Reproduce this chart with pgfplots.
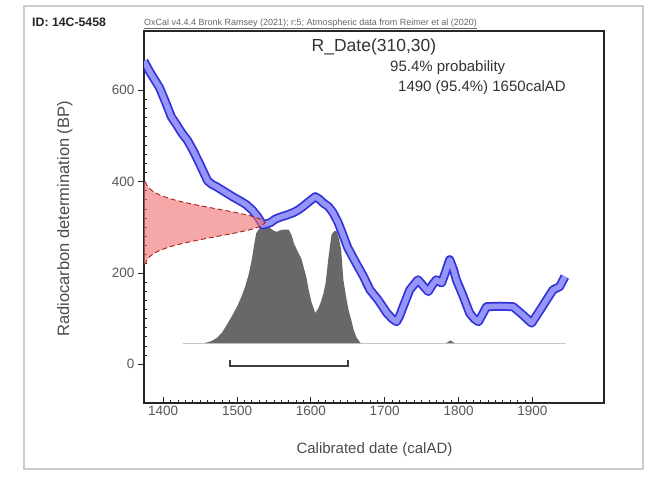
\documentclass[border=0pt]{standalone}
\usepackage{fontspec}
\setmainfont{Liberation Sans}
\usepackage{pgfplots}
\pgfplotsset{compat=1.18}
\definecolor{bandedge}{RGB}{50,50,215}
\definecolor{bandfill}{RGB}{150,150,250}
\definecolor{probfill}{RGB}{240,110,110}
\definecolor{probedge}{RGB}{170,30,30}
\definecolor{postgray}{RGB}{104,104,104}

\begin{document}
\begin{tikzpicture}
% page frame
\fill[white] (0pt,0pt) rectangle (652pt,476pt);
\draw[black!20, line width=1.5pt] (24pt,7pt) rectangle (643pt,470pt);
\node[anchor=west, inner sep=0pt, font=\bfseries\fontsize{12.3}{14}\selectfont, text=black!85] at (32pt,454pt) {ID: 14C-5458};
\node[anchor=west, inner sep=0pt, font=\fontsize{9}{10}\selectfont, text=black!60] at (144pt,452pt) {\underline{OxCal v4.4.4 Bronk Ramsey (2021); r:5; Atmospheric data from Reimer et al (2020)}};

\begin{axis}[
    at={(144pt,73pt)}, anchor=south west,
    scale only axis, width=460pt, height=372pt,
    xmin=1374, xmax=1997, ymin=-85, ymax=730,
    xtick={1400,1500,1600,1700,1800,1900},
    ytick={0,200,400,600},
    minor x tick num=9, minor y tick num=9,
    xtick pos=left, ytick pos=left,
    tick align=inside, ytick align=outside,
    major tick length=6pt, minor tick length=3pt,
    tick style={black!85, line width=0.8pt},
    minor y tick style={xshift=3pt},
    axis line style={black!85, line width=1.3pt},
    ticklabel style={font=\fontsize{13.5}{14}\selectfont, text=black!65},
    /pgf/number format/assume math mode=true,
    /pgf/number format/1000 sep={},
    xlabel={Calibrated date (calAD)},
    ylabel={Radiocarbon determination (BP)},
    label style={text=black!70},
    xlabel style={font=\fontsize{15}{17}\selectfont, at={(axis description cs:0.501,-0.126)}, anchor=center},
    ylabel style={font=\fontsize{16.5}{18}\selectfont, at={(axis description cs:-0.172,0.495)}, anchor=center},
]
% baseline of the calibrated distribution
\addplot[black!22, line width=0.8pt] coordinates {(1427,46) (1945,46)};
% calibrated (posterior) distribution
\addplot[fill=postgray, draw=none] coordinates {
(1455,46) (1460,48) (1466,51) (1473,58) (1480,70) (1486,86) (1493,105) (1500,126)
(1506,148) (1511,170) (1516,198) (1520,229) (1523,260) (1526,287) (1530,297) (1534,302)
(1540,303) (1545,298) (1550,292) (1554,290) (1558,293) (1563,295) (1570,295) (1574,282)
(1577,265) (1583,244) (1587,232) (1590,214) (1594,190) (1597,163) (1601,135) (1606,112)
(1610,122) (1613,134) (1617,155) (1620,178) (1624,236) (1628,284) (1632,292) (1635,291)
(1638,275) (1641,251) (1644,185) (1648,145) (1651,119) (1655,95) (1658,75) (1662,58)
(1667,47) (1670,46)};
\addplot[fill=postgray, draw=none] coordinates {(1783,46) (1789,52) (1795,46)};
% calibration curve (IntCal20 band)
\addplot[bandedge, line width=9pt, line join=round] coordinates {
(1374,664) (1382,640) (1395,606) (1403,575) (1411,542) (1418,525) (1425,507) (1433,490)
(1440,470) (1450,437) (1460,402) (1466,394) (1472,389) (1479,382) (1486,375) (1495,366)
(1505,357) (1513,349) (1521,337) (1528,323) (1535,305) (1545,310) (1552,318) (1560,323)
(1568,327) (1576,332) (1583,338) (1589,345) (1598,357) (1606,367) (1611,362) (1617,353)
(1624,345) (1630,332) (1637,310) (1643,285) (1650,255) (1660,225) (1671,193) (1680,163)
(1691,141) (1703,112) (1710,100) (1716,93) (1720,105) (1725,126) (1734,163) (1745,185)
(1752,172) (1759,159) (1765,175) (1770,185) (1777,178) (1782,200) (1788,229) (1793,208)
(1797,185) (1806,150) (1815,112) (1821,100) (1827,93) (1832,108) (1838,126) (1856,127)
(1874,126) (1887,108) (1899,90) (1913,125) (1928,163) (1937,170) (1944,192)};
\addplot[bandfill, line width=5.5pt, line join=round] coordinates {
(1374,664) (1382,640) (1395,606) (1403,575) (1411,542) (1418,525) (1425,507) (1433,490)
(1440,470) (1450,437) (1460,402) (1466,394) (1472,389) (1479,382) (1486,375) (1495,366)
(1505,357) (1513,349) (1521,337) (1528,323) (1535,305) (1545,310) (1552,318) (1560,323)
(1568,327) (1576,332) (1583,338) (1589,345) (1598,357) (1606,367) (1611,362) (1617,353)
(1624,345) (1630,332) (1637,310) (1643,285) (1650,255) (1660,225) (1671,193) (1680,163)
(1691,141) (1703,112) (1710,100) (1716,93) (1720,105) (1725,126) (1734,163) (1745,185)
(1752,172) (1759,159) (1765,175) (1770,185) (1777,178) (1782,200) (1788,229) (1793,208)
(1797,185) (1806,150) (1815,112) (1821,100) (1827,93) (1832,108) (1838,126) (1856,127)
(1874,126) (1887,108) (1899,90) (1913,125) (1928,163) (1937,170) (1944,192)};
% radiocarbon measurement 310 +/- 30 BP
\addplot[fill=probfill, fill opacity=0.6, draw=none] coordinates {
(1374,400) (1375.8,400) (1377.7,392.5) (1381.2,385) (1387.1,377.5) (1396.2,370) (1409.5,362.5)
(1427.3,355) (1449.1,347.5) (1473.5,340) (1497.8,332.5) (1518.7,325) (1532.9,317.5) (1538,310)
(1532.9,302.5) (1518.7,295) (1497.8,287.5) (1473.5,280) (1449.1,272.5) (1427.3,265)
(1409.5,257.5) (1396.2,250) (1387.1,242.5) (1381.2,235) (1377.7,227.5) (1375.8,220) (1374,220)};
\addplot[probedge, line width=0.9pt, dash pattern=on 5pt off 3pt] coordinates {
(1375.8,400) (1377.7,392.5) (1381.2,385) (1387.1,377.5) (1396.2,370) (1409.5,362.5)
(1427.3,355) (1449.1,347.5) (1473.5,340) (1497.8,332.5) (1518.7,325) (1532.9,317.5) (1538,310)
(1532.9,302.5) (1518.7,295) (1497.8,287.5) (1473.5,280) (1449.1,272.5) (1427.3,265)
(1409.5,257.5) (1396.2,250) (1387.1,242.5) (1381.2,235) (1377.7,227.5) (1375.8,220)};
% 95.4% range bracket
\addplot[black!75, line width=2pt] coordinates {(1490,9) (1490,-5) (1650,-5) (1650,9)};
\end{axis}

\node[inner sep=0pt, font=\fontsize{17.5}{20}\selectfont, text=black!80] at (374pt,429pt) {R\_Date(310,30)};
\node[anchor=west, inner sep=0pt, font=\fontsize{15}{17}\selectfont, text=black!80] at (390pt,408pt) {95.4\% probability};
\node[anchor=west, inner sep=0pt, font=\fontsize{15}{17}\selectfont, text=black!80] at (398pt,388pt) {1490 (95.4\%) 1650calAD};
\end{tikzpicture}
\end{document}
